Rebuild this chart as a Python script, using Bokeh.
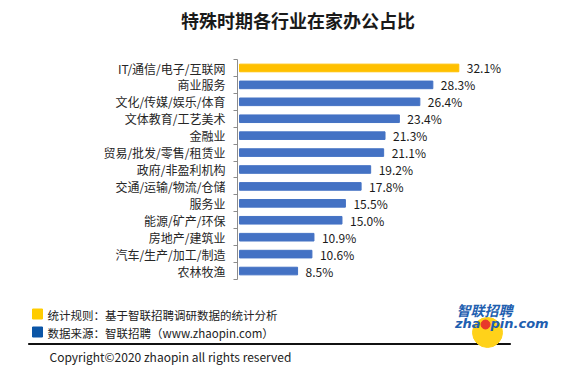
from bokeh.plotting import figure
from bokeh.models import Range1d, ColumnDataSource, LabelSet, FixedTicker
from bokeh.layouts import column
from bokeh.embed import file_html
from bokeh.resources import INLINE
from bokeh.core.properties import value

title_text = "特殊时期各行业在家办公占比"
categories = ["IT/通信/电子/互联网", "商业服务", "文化/传媒/娱乐/体育", "文体教育/工艺美术",
              "金融业", "贸易/批发/零售/租赁业", "政府/非盈利机构", "交通/运输/物流/仓储",
              "服务业", "能源/矿产/环保", "房地产/建筑业", "汽车/生产/加工/制造", "农林牧渔"]
values = [32.1, 28.3, 26.4, 23.4, 21.3, 21.1, 19.2, 17.8, 15.5, 15.0, 10.9, 10.6, 8.5]
value_labels = ["32.1%", "28.3%", "26.4%", "23.4%", "21.3%", "21.1%", "19.2%", "17.8%",
                "15.5%", "15.0%", "10.9%", "10.6%", "8.5%"]
note1 = "统计规则：基于智联招聘调研数据的统计分析"
note2 = "数据来源：智联招聘（www.zhaopin.com）"
copyright_text = "Copyright©2020 zhaopin all rights reserved"

CJK = "Noto Sans CJK SC"
n = len(categories)
ys = [n - 1 - i for i in range(n)]
colors = ["#FFC000"] + ["#4472C4"] * (n - 1)

W = 579
H0 = 59            # header (image y 0..59)
FH = 220           # bar frame height (image y 59..279)
H1 = FH + 9        # main chart (image y 59..288)
H2 = 367 - H0 - H1 # footer (image y 288..367)
ML, MR = 237, 39
k = (458.3 - 239) / 32.1
x0 = -(239 - ML) / k
x1 = x0 + (W - ML - MR) / k


def deco_fig(h):
    f = figure(width=W, height=h, output_backend="svg", toolbar_location=None,
               x_range=Range1d(0, W), y_range=Range1d(0, h),
               x_axis_location=None, y_axis_location=None, min_border=0,
               min_border_left=0, min_border_right=0, min_border_top=0,
               min_border_bottom=0, frame_align=False)
    f.outline_line_color = None
    f.xgrid.visible = False
    f.ygrid.visible = False
    return f


# header with title (y measured upward from the header's bottom)
h = deco_fig(H0)
h.text(x=[297.5], y=[H0 - 19], text=[title_text], text_align="center", text_baseline="middle",
       text_font=value(CJK), text_font_size="18px", text_font_style="bold",
       text_color="#1a1a1a")

# main chart
p = figure(width=W, height=H1, output_backend="svg", toolbar_location=None,
           x_range=Range1d(x0, x1), y_range=Range1d(-0.5, n - 0.5),
           x_axis_location=None, min_border_left=ML, min_border_right=MR,
           min_border_top=0, min_border_bottom=H1 - FH, frame_align=False)
p.outline_line_color = None
p.xgrid.visible = False
p.ygrid.visible = False

src = ColumnDataSource(dict(y=ys, v=values, c=colors, lab=value_labels))
p.hbar(y="y", left=0, right="v", height=0.45, color="c", source=src)

yax = p.yaxis[0]
yax.ticker = FixedTicker(ticks=ys, minor_ticks=[i - 0.5 for i in range(n + 1)])
yax.major_label_overrides = {y: c for y, c in zip(ys, categories)}
yax.major_tick_out = 0
yax.major_tick_in = 0
yax.minor_tick_out = 4
yax.minor_tick_in = 0
yax.minor_tick_line_color = "#8c8c8c"
yax.axis_line_color = "#8c8c8c"
yax.major_label_standoff = 8
yax.major_label_text_font = CJK
yax.major_label_text_font_size = "12px"
yax.major_label_text_color = "#262626"

p.add_layout(LabelSet(x="v", y="y", text="lab", source=src, x_offset=8,
                      text_baseline="middle", text_font=value(CJK),
                      text_font_size="12px", text_color="#1a1a1a"))

# footer (y measured upward from the page bottom at 367)
f = deco_fig(H2)
B = 367


def fy(img_y):
    return B - img_y


f.rect(x=[37, 37], y=[fy(313.5), fy(331.5)], width=10, height=10,
       color=["#FFCC00", "#0B55A6"])
f.text(x=[47, 47], y=[fy(314), fy(332)], text=[note1, note2], text_baseline="middle",
       text_font=value(CJK), text_font_size="11.5px", text_color="#222222")
f.hbar(y=[fy(343.5)], left=[28], right=[510], height=1, color="#111111")
f.text(x=[49], y=[fy(356)], text=[copyright_text], text_baseline="middle",
       text_font=value(CJK), text_font_size="12px", text_color="#222222")

# logo
f.circle(x=[487], y=[fy(332)], radius=15, color="#FFD21A")
f.text(x=[512], y=[fy(309)], text=["智联招聘"], text_align="right", text_baseline="middle",
       text_font=value(CJK), text_font_size="14px", text_font_style="bold italic",
       text_color="#1F5FB0")
f.text(x=[480], y=[fy(323)], text=["zha"], text_align="right", text_baseline="middle",
       text_font=value("DejaVu Sans"), text_font_size="13px", text_font_style="bold italic",
       text_color="#1F5FB0")
f.circle(x=[485], y=[fy(324)], radius=4.5, color="#E8392B")
f.text(x=[490], y=[fy(323)], text=["pin.com"], text_align="left", text_baseline="middle",
       text_font=value("DejaVu Sans"), text_font_size="13px", text_font_style="bold italic",
       text_color="#1F5FB0")

layout = column(h, p, f, spacing=0)
open("out.html", "w").write(file_html(layout, INLINE))
